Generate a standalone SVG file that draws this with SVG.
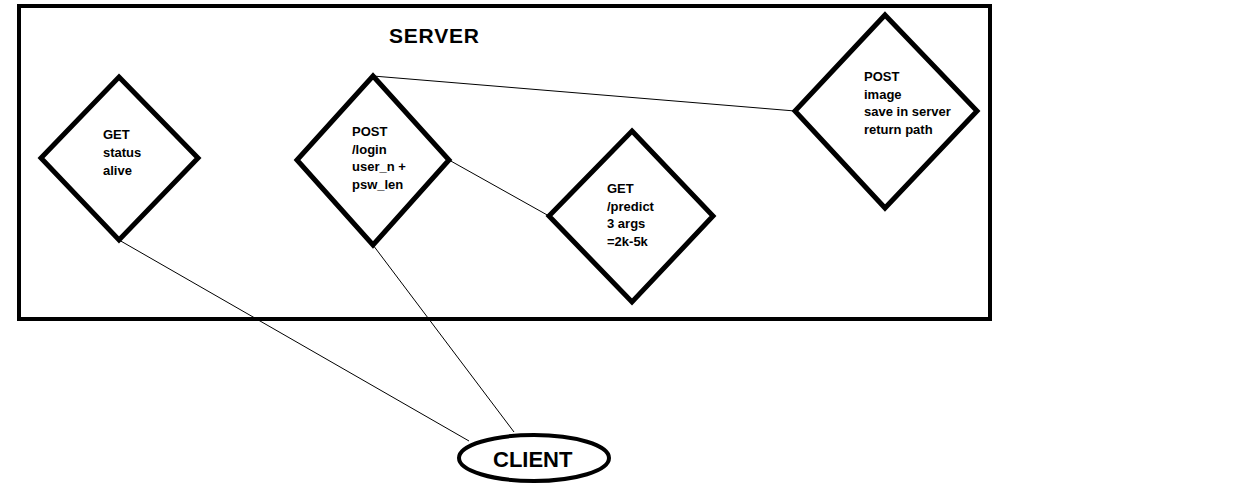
<svg xmlns="http://www.w3.org/2000/svg" width="1243" height="483" viewBox="0 0 1243 483">
<style>
.bg{fill:#fff}
.shape{fill:#fff;stroke:#000;stroke-width:5;stroke-linejoin:miter}
.box{fill:none;stroke:#000;stroke-width:4}
.conn{stroke:#000;stroke-width:1;fill:none}
.lbl{font-family:"Liberation Sans",Arial,sans-serif;font-weight:bold;font-size:13px;fill:#000}
.title{font-family:"Liberation Sans",Arial,sans-serif;font-weight:bold;font-size:21px;fill:#000}
</style>
<rect class="bg" x="0" y="0" width="1243" height="483"/>
<g id="server">
<rect class="box" x="19" y="6" width="971" height="313"/>
<text class="title" x="389" y="43" textLength="90">SERVER</text>
</g>
<g id="connectors">
<line class="conn" x1="119" y1="240" x2="469" y2="441"/>
<line class="conn" x1="373" y1="245" x2="514" y2="432"/>
<line class="conn" x1="373" y1="76" x2="795" y2="111"/>
<line class="conn" x1="449" y1="160" x2="549" y2="216"/>
</g>
<g id="node-status">
<polygon class="shape" points="119,77 198,158 119,240 41,158"/>
<text class="lbl" x="103" y="139">GET</text>
<text class="lbl" x="103" y="157">status</text>
<text class="lbl" x="103" y="175">alive</text>
</g>
<g id="node-login">
<polygon class="shape" points="373,76 449,160 373,245 297,160"/>
<text class="lbl" x="352" y="136">POST</text>
<text class="lbl" x="352" y="154">/login</text>
<text class="lbl" x="352" y="171">user_n +</text>
<text class="lbl" x="352" y="189">psw_len</text>
</g>
<g id="node-predict">
<polygon class="shape" points="632,131 713,216 632,302 549,216"/>
<text class="lbl" x="607" y="193">GET</text>
<text class="lbl" x="607" y="211">/predict</text>
<text class="lbl" x="607" y="228">3 args</text>
<text class="lbl" x="607" y="246">=2k-5k</text>
</g>
<g id="node-image">
<polygon class="shape" points="885,15 977,111 885,208 795,111"/>
<text class="lbl" x="864" y="81">POST</text>
<text class="lbl" x="864" y="99">image</text>
<text class="lbl" x="864" y="116">save in server</text>
<text class="lbl" x="864" y="134">return path</text>
</g>
<g id="node-client">
<ellipse class="box" cx="534" cy="458" rx="75" ry="23" style="fill:#fff"/>
<text class="title" x="493" y="467" style="font-size:22px">CLIENT</text>
</g>
</svg>
